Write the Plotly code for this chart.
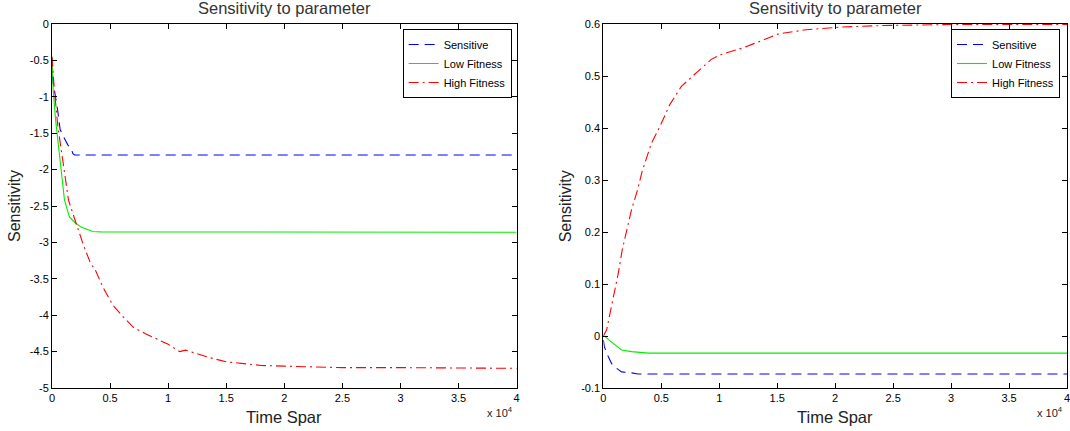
import plotly.graph_objects as go

# ---- Left panel: sensitivity trajectories (negative) ----
left_sens_t = [0, 90, 250, 500, 700, 930, 1360, 1650, 1800, 1950, 40000]
left_sens_v = [-0.70, -0.82, -0.95, -1.20, -1.45, -1.53, -1.66, -1.71, -1.78, -1.80, -1.80]

left_low_t = [0, 100, 300, 500, 730, 1075, 1500, 2000, 2500, 3100, 3500, 4200, 40000]
left_low_v = [-0.45, -0.90, -1.30, -1.60, -1.94, -2.42, -2.65, -2.73, -2.79, -2.82, -2.85, -2.855, -2.86]

left_high_t = [0, 200, 500, 800, 1075, 1420, 2080, 2650, 3370, 3650, 4370, 5230, 6230, 7030,
               8000, 9000, 10000, 11000, 11500, 12500, 13500, 15000, 16500, 18000, 20000,
               22000, 25000, 30000, 32500, 33000, 40000]
left_high_v = [-0.45, -0.90, -1.40, -1.75, -2.05, -2.42, -2.74, -3.01, -3.31, -3.35, -3.61, -3.86,
               -4.04, -4.17, -4.25, -4.33, -4.40, -4.50, -4.48, -4.53, -4.58, -4.64, -4.66, -4.69,
               -4.70, -4.71, -4.72, -4.72, -4.72, -4.73, -4.73]

# ---- Right panel: sensitivity trajectories (mostly positive) ----
right_sens_t = [0, 86, 430, 710, 1140, 1570, 2430, 3000, 40000]
right_sens_v = [-0.008, -0.021, -0.040, -0.053, -0.062, -0.069, -0.071, -0.073, -0.073]

right_low_t = [0, 150, 500, 860, 1200, 1570, 2430, 3000, 3870, 40000]
right_low_v = [0.0, -0.001, -0.008, -0.014, -0.021, -0.027, -0.030, -0.031, -0.033, -0.033]

right_high_t = [0, 284, 576, 1005, 1290, 1630, 2000, 2430, 2950, 3350, 4150, 4880, 5730, 6730,
                8160, 9310, 10000, 12160, 15120, 17500, 20450, 24000, 27000, 30000, 40000]
right_high_v = [0.0, 0.012, 0.044, 0.089, 0.121, 0.166, 0.204, 0.243, 0.281, 0.317, 0.371, 0.403,
                0.445, 0.480, 0.509, 0.532, 0.540, 0.555, 0.581, 0.589, 0.594, 0.597, 0.598,
                0.599, 0.599]

# ---- Tick labels ----
x_tickvals = [0, 5000, 10000, 15000, 20000, 25000, 30000, 35000, 40000]
x_ticktext = ["0", "0.5", "1", "1.5", "2", "2.5", "3", "3.5", "4"]
left_y_tickvals = [0, -0.5, -1, -1.5, -2, -2.5, -3, -3.5, -4, -4.5, -5]
left_y_ticktext = ["0", "-0.5", "-1", "-1.5", "-2", "-2.5", "-3", "-3.5", "-4", "-4.5", "-5"]
right_y_tickvals = [-0.1, 0, 0.1, 0.2, 0.3, 0.4, 0.5, 0.6]
right_y_ticktext = ["-0.1", "0", "0.1", "0.2", "0.3", "0.4", "0.5", "0.6"]

FONT = "Liberation Sans, Arial, Helvetica, sans-serif"
BLUE, GREEN, RED = "#0000ff", "#00ee00", "#ff0000"
DASH = "10px,6px"
DASHDOT = "10px,4px,2px,4px"

fig = go.Figure()

def add_series(t, v, name, color, dash, xa, ya, legend):
    fig.add_trace(go.Scatter(
        x=t, y=v, mode="lines", name=name,
        line=dict(color=color, width=1.1, dash=dash),
        xaxis=xa, yaxis=ya, legend=legend,
    ))

add_series(left_sens_t, left_sens_v, "Sensitive", BLUE, DASH, "x", "y", "legend")
add_series(left_low_t, left_low_v, "Low Fitness", GREEN, "solid", "x", "y", "legend")
add_series(left_high_t, left_high_v, "High Fitness", RED, DASHDOT, "x", "y", "legend")
add_series(right_sens_t, right_sens_v, "Sensitive", BLUE, DASH, "x2", "y2", "legend2")
add_series(right_low_t, right_low_v, "Low Fitness", GREEN, "solid", "x2", "y2", "legend2")
add_series(right_high_t, right_high_v, "High Fitness", RED, DASHDOT, "x2", "y2", "legend2")

W, H = 1070, 431
ML, MR, MT, MB = 52, 0, 24, 43
PW = W - ML - MR
PH = H - MT - MB
left_dom = [0.0, 466 / PW]
right_dom = [(605 - ML) / PW, 1.0]

axis_common = dict(
    showline=True, linecolor="black", linewidth=1, mirror="allticks",
    ticks="inside", ticklen=5, tickcolor="black", tickwidth=1,
    showgrid=False, zeroline=False, ticklabeloverflow="allow",
    tickfont=dict(family=FONT, size=11, color="black"),
)

legend_common = dict(
    xanchor="right", y=1 - 5 / PH, yanchor="top",
    bgcolor="white", bordercolor="black", borderwidth=1,
    font=dict(family=FONT, size=11, color="black"),
    itemwidth=30, tracegroupgap=0,
)

fig.update_layout(
    width=W, height=H,
    margin=dict(l=ML, r=MR, t=MT, b=MB, pad=0),
    paper_bgcolor="white", plot_bgcolor="white",
    font=dict(family=FONT, color="black"),
    xaxis=dict(domain=left_dom, range=[0, 40000], tickvals=x_tickvals, ticktext=x_ticktext,
               anchor="y", **axis_common),
    yaxis=dict(domain=[0, 1], range=[-5, 0], tickvals=left_y_tickvals, ticktext=left_y_ticktext,
               anchor="x", **axis_common),
    xaxis2=dict(domain=right_dom, range=[0, 40000], tickvals=x_tickvals, ticktext=x_ticktext,
                anchor="y2", **axis_common),
    yaxis2=dict(domain=[0, 1], range=[-0.1, 0.6], tickvals=right_y_tickvals,
                ticktext=right_y_ticktext, anchor="x2", **axis_common),
    legend=dict(x=(513 - ML) / PW, **legend_common),
    legend2=dict(x=(1063 - ML) / PW, **legend_common),
    showlegend=True,
)

def centre(dom):
    return (dom[0] + dom[1]) / 2

annotations = []
for dom in (left_dom, right_dom):
    c = centre(dom)
    annotations.append(dict(text="Sensitivity to parameter", x=c, y=1, xref="paper", yref="paper",
                            xanchor="center", yanchor="middle", yshift=16, showarrow=False,
                            font=dict(family=FONT, size=16.5, color="#333333")))
    annotations.append(dict(text="Time Spar", x=c, y=0, xref="paper", yref="paper",
                            xanchor="center", yanchor="middle", yshift=-29, showarrow=False,
                            font=dict(family=FONT, size=16.5, color="#222222")))
    annotations.append(dict(text="Sensitivity", x=dom[0], y=0.5, xref="paper", yref="paper",
                            xanchor="center", yanchor="middle", xshift=-38, textangle=-90,
                            showarrow=False, font=dict(family=FONT, size=16, color="#222222")))
    annotations.append(dict(text="x 10<sup>4</sup>", x=dom[1], y=0, xref="paper", yref="paper",
                            xanchor="right", yanchor="middle", xshift=-2, yshift=-24,
                            showarrow=False, font=dict(family=FONT, size=11, color="#222222")))
fig.update_layout(annotations=annotations)

fig.write_html("out.html")
